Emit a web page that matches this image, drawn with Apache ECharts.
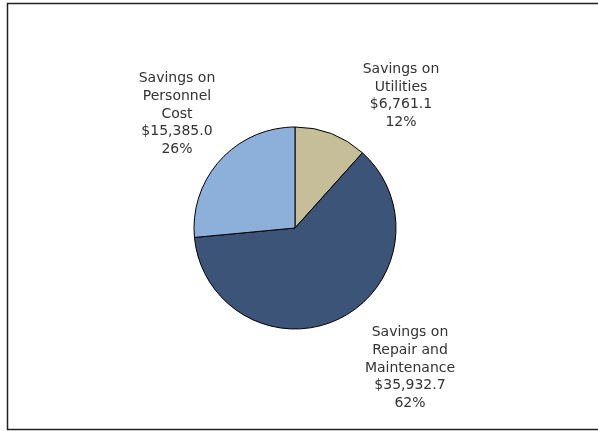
<!DOCTYPE html>
<html>
<head>
<meta charset="utf-8">
<script src="https://cdn.jsdelivr.net/npm/echarts@6/dist/echarts.min.js"></script>
<style>
  html, body { margin: 0; padding: 0; background: #fff; }
  #chart { width: 598px; height: 431px; }
</style>
</head>
<body>
<div id="chart"></div>
<script>
// Savings breakdown
const categories = ['Savings on\nUtilities', 'Savings on\nRepair and\nMaintenance', 'Savings on\nPersonnel\nCost'];
const savings = [6761.1, 35932.7, 15385.0];
const sliceColors = ['#C5BE98', '#3C5478', '#8DB0DB'];

// label anchor points (centre of each text block)
const labelAnchors = [[401, 96], [410, 368], [177, 114]];

const fmtMoney = v => '$' + v.toLocaleString('en-US', { minimumFractionDigits: 1, maximumFractionDigits: 1 });

const chart = echarts.init(document.getElementById('chart'), null, { renderer: 'canvas' });

chart.setOption({
  animation: false,
  backgroundColor: '#fff',
  graphic: [{
    type: 'rect',
    shape: { x: 7.5, y: 3.5, width: 620, height: 426 },
    style: { fill: 'none', stroke: '#222', lineWidth: 1.5 },
    silent: true
  }],
  series: [{
    type: 'pie',
    center: [295, 228],
    radius: 101,
    startAngle: 90,
    clockwise: true,
    data: categories.map((name, i) => ({
      name,
      value: savings[i],
      itemStyle: { color: sliceColors[i] }
    })),
    itemStyle: { borderColor: '#000', borderWidth: 1 },
    label: {
      show: true,
      position: 'outside',
      formatter: p => p.name + '\n' + fmtMoney(p.value) + '\n' + Math.round(p.percent) + '%',
      fontFamily: 'DejaVu Sans',
      fontSize: 14,
      lineHeight: 17.7,
      color: '#333',
      align: 'center',
      verticalAlign: 'middle'
    },
    labelLine: { show: false },
    emphasis: { disabled: true },
    labelLayout: p => ({
      x: labelAnchors[p.dataIndex][0],
      y: labelAnchors[p.dataIndex][1],
      align: 'center',
      verticalAlign: 'middle'
    })
  }]
});
</script>
</body>
</html>
